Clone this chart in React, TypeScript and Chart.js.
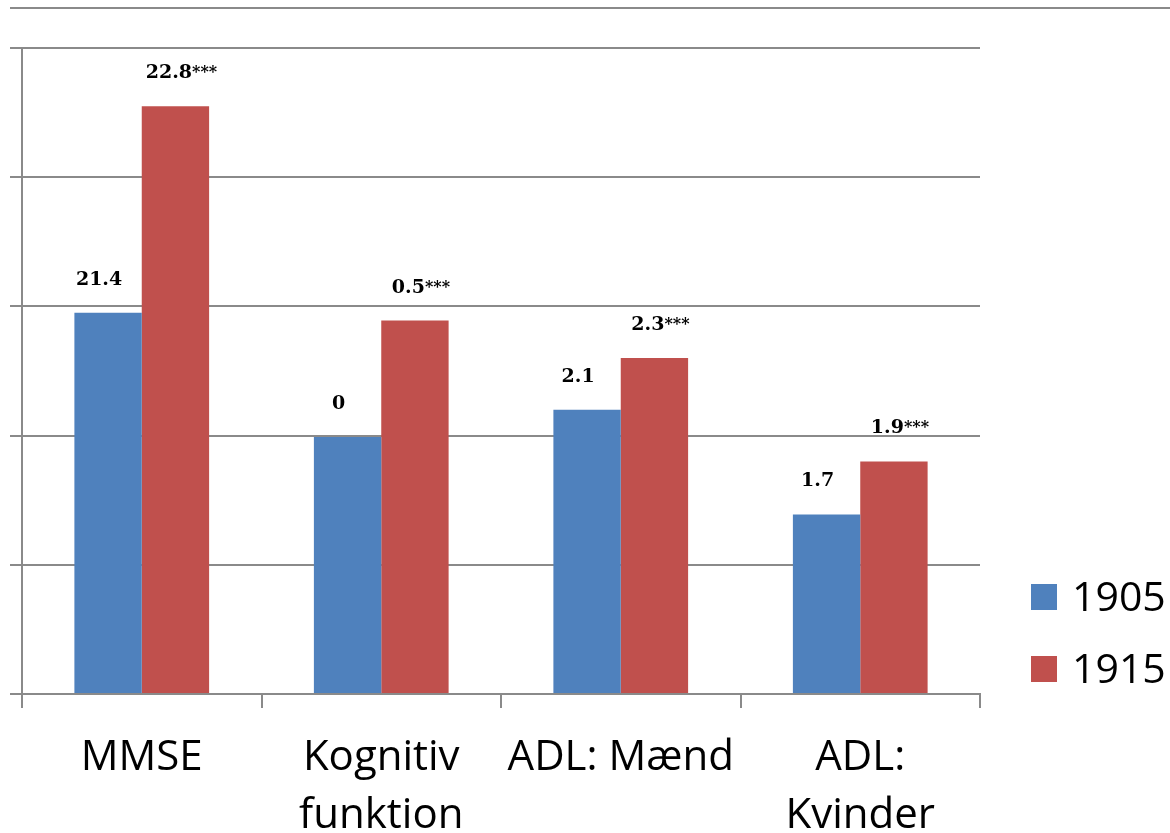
import React, { useEffect, useRef } from "react";
import { Chart, registerables } from "chart.js";

Chart.register(...registerables);

const categories: string[][] = [["MMSE"], ["Kognitiv", "funktion"], ["ADL: Mænd"], ["ADL:", "Kvinder"]];
const seriesNames = ["1905", "1915"];
const values1905 = [2.95, 1.99, 2.2, 1.39];
const values1915 = [4.55, 2.89, 2.6, 1.8];
const labels1905 = ["21.4", "0", "2.1", "1.7"];
const labels1915 = ["22.8", "0.5", "2.3", "1.9"];
const sig1905 = ["", "", "", ""];
const sig1915 = ["***", "***", "***", "***"];
const colors = ["#4F81BD", "#C0504D"];

const GRID = "#8a8a8a";

const decorPlugin = {
  id: "decor",
  beforeDraw(chart: any) {
    const ctx = chart.ctx;
    ctx.save();
    ctx.strokeStyle = GRID;
    ctx.lineWidth = 2;
    ctx.beginPath();
    ctx.moveTo(10, 8);
    ctx.lineTo(chart.width, 8);
    ctx.stroke();
    ctx.restore();
  },
  afterDatasetsDraw(chart: any) {
    const ctx = chart.ctx;
    const texts = [labels1905, labels1915];
    const sigs = [sig1905, sig1915];
    const mainFont = "bold 19px 'DejaVu Serif'";
    const sigFont = "bold 16px 'DejaVu Serif'";
    ctx.save();
    chart.data.datasets.forEach((_ds: any, di: number) => {
      const meta = chart.getDatasetMeta(di);
      meta.data.forEach((bar: any, i: number) => {
        const main = texts[di][i];
        const sig = sigs[di][i];
        ctx.font = mainFont;
        const w1 = ctx.measureText(main).width;
        ctx.font = sigFont;
        const w2 = sig ? ctx.measureText(sig).width : 0;
        const total = w1 + w2;
        const x0 = bar.x - total / 2 + (sig ? 6 : -9);
        const yb = bar.y - 28;
        ctx.fillStyle = "#000";
        ctx.textAlign = "left";
        ctx.textBaseline = "alphabetic";
        ctx.font = mainFont;
        ctx.fillText(main, x0, yb);
        if (sig) {
          ctx.font = sigFont;
          ctx.fillText(sig, x0 + w1, yb - 1);
        }
      });
    });
    ctx.restore();
  },
  afterDraw(chart: any) {
    const ctx = chart.ctx;
    ctx.save();
    const bx = 1031;
    const ys = [597, 669];
    chart.data.datasets.forEach((ds: any, i: number) => {
      ctx.fillStyle = ds.backgroundColor;
      ctx.fillRect(bx, ys[i] - 13, 26, 26);
      ctx.fillStyle = "#000";
      ctx.font = "41px 'Open Sans'";
      ctx.textAlign = "left";
      ctx.textBaseline = "middle";
      ctx.fillText(ds.label, 1072, ys[i] + 2);
    });
    ctx.restore();
  },
};

export default function App() {
  const ref = useRef<HTMLCanvasElement>(null);
  useEffect(() => {
    if (!ref.current) return;
    const chart = new Chart(ref.current, {
      type: "bar",
      data: {
        labels: categories,
        datasets: [
          { label: seriesNames[0], data: values1905, backgroundColor: colors[0], categoryPercentage: 0.5625, barPercentage: 1 },
          { label: seriesNames[1], data: values1915, backgroundColor: colors[1], categoryPercentage: 0.5625, barPercentage: 1 },
        ],
      },
      options: {
        animation: false,
        responsive: false,
        devicePixelRatio: 1,
        layout: { padding: { left: 10, right: 190, top: 48, bottom: 0 } },
        plugins: { legend: { display: false }, tooltip: { enabled: false } },
        scales: {
          x: {
            grid: { display: true, drawOnChartArea: false, drawTicks: true, tickLength: 14, color: GRID, lineWidth: 2, offset: true },
            border: { display: true, color: GRID, width: 2 },
            ticks: { color: "#000", font: { family: "'Open Sans'", size: 42, lineHeight: 1.38 }, padding: 21, maxRotation: 0, autoSkip: false },
            afterFit: (s: any) => { s.height = 139; },
          },
          y: {
            min: 0,
            max: 5,
            ticks: { stepSize: 1, display: false },
            grid: { color: GRID, lineWidth: 2, drawTicks: true, tickLength: 12 },
            border: { display: true, color: GRID, width: 2 },
            afterFit: (s: any) => { s.width = 12; },
          },
        },
      },
      plugins: [decorPlugin],
    });
    return () => chart.destroy();
  }, []);
  return (
    <div style={{ position: "fixed", left: 0, top: 0, width: 1170, height: 833, background: "#fff" }}>
      <canvas ref={ref} width={1170} height={833} style={{ width: 1170, height: 833 }} />
    </div>
  );
}
